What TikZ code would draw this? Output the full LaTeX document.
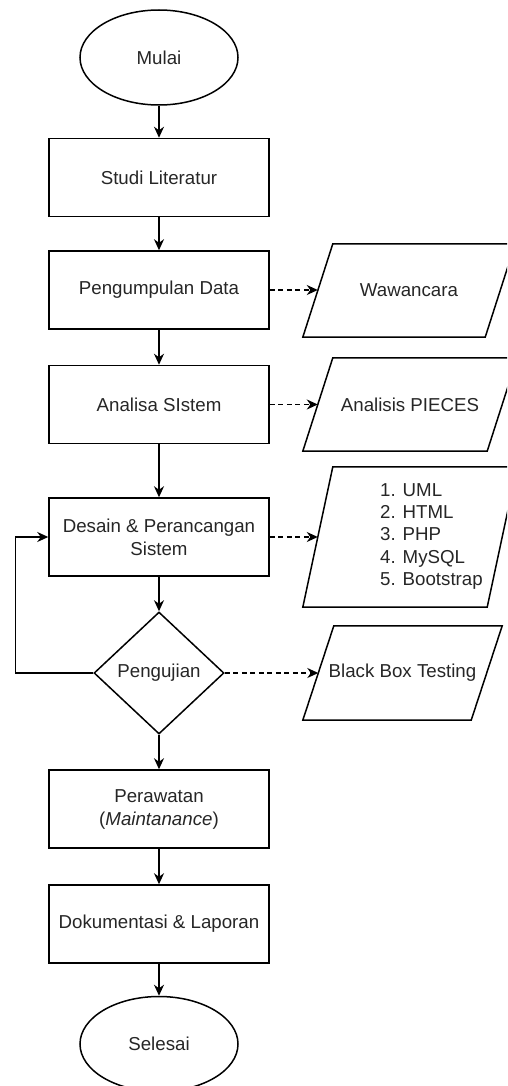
\documentclass[tikz,border=0pt]{standalone}
\usepackage{fontspec}
\setmainfont{Liberation Sans}
\usetikzlibrary{shapes.geometric,arrows.meta}
\newcommand\drawpara[2]{\draw[line width=1.5pt] ([xshift=-#2]#1.south west) -- ([xshift=#2]#1.north west) -- ([xshift=#2]#1.north east) -- ([xshift=-#2]#1.south east) -- cycle;}
\begin{document}
\begin{tikzpicture}[x=1pt,y=-1pt,
  every node/.style={font=\fontsize{18.7pt}{23pt}\selectfont, text=black!85},
  proc/.style={draw, line width=1.5pt, rectangle, minimum width=220pt, minimum height=78pt, align=center, inner sep=0pt},
  term/.style={draw, line width=1.5pt, ellipse, minimum width=158pt, minimum height=95pt, inner sep=0pt},
  dec/.style={draw, line width=1.5pt, diamond, minimum width=130pt, minimum height=122pt, inner sep=0pt},
  io/.style={rectangle, inner sep=0pt, align=center},
  flow/.style={line width=1.5pt, -{Stealth[length=11pt,width=10pt,inset=3.5pt]}},
  dflow/.style={flow, dash pattern=on 5pt off 3.5pt},
]
\useasboundingbox (0,0) rectangle (507,1086);
\clip (0,0) rectangle (507,1086);

\node[term] (mulai) at (159,57.5) {Mulai};
\node[proc] (studi) at (159,177.5) {Studi Literatur};
\node[proc] (pd) at (159,290) {Pengumpulan Data};
\node[proc] (as) at (159,404.5) {Analisa SIstem};
\node[proc] (ds) at (159,537) {Desain \& Perancangan\\Sistem};
\node[dec] (pj) at (159,673) {Pengujian};
\node[proc] (pr) at (159,809) {Perawatan\\(\textit{Maintanance})};
\node[proc] (dk) at (159,924) {Dokumentasi \& Laporan};
\node[term] (sl) at (159,1044) {Selesai};

\node[io, minimum width=182pt, minimum height=93pt] (wa) at (409,290.5) {Wawancara};
\node[io, minimum width=184pt, minimum height=93pt] (pc) at (410,404.5) {Analisis PIECES};
\node[io, minimum width=184pt, minimum height=140pt] (li) at (410,537) {};
\node[io, minimum width=168pt, minimum height=94pt] (bb) at (402.5,673) {Black Box Testing};
\drawpara{wa}{15pt}
\drawpara{pc}{15pt}
\drawpara{li}{15pt}
\drawpara{bb}{15.5pt}
\node[anchor=west, align=left, inner sep=0pt, font=\fontsize{18.7pt}{22.2pt}\selectfont] (litxt) at (380,536.5) {1. UML\\2. HTML\\3. PHP\\4. MySQL\\5. Bootstrap};

\draw[flow] (mulai) -- (studi);
\draw[flow] (studi) -- (pd);
\draw[flow] (pd) -- (as);
\draw[flow] (as) -- (ds);
\draw[flow] (ds) -- (pj);
\draw[flow] (pj) -- (pr);
\draw[flow] (pr) -- (dk);
\draw[flow] (dk) -- (sl);

\draw[dflow] (pd.east) -- (pd.east -| wa.west);
\draw[dflow] (as.east) -- (as.east -| pc.west);
\draw[dflow] (ds.east) -- (ds.east -| li.west);
\draw[dflow] (pj.east) -- (pj.east -| bb.west);

\draw[flow] (pj.west) -- ++(-78,0) |- (ds.west);
\end{tikzpicture}
\end{document}
